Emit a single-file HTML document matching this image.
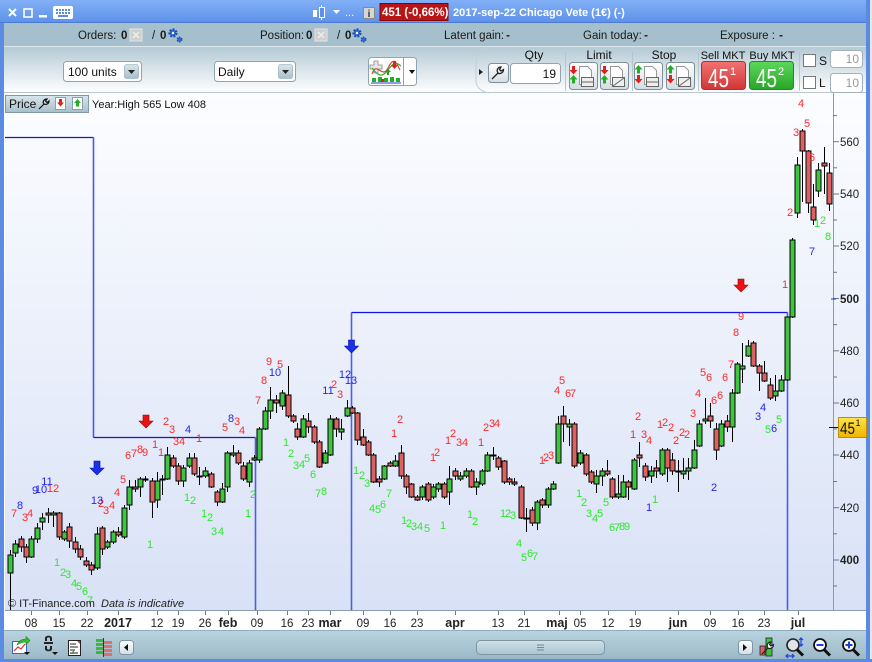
<!DOCTYPE html>
<html><head><meta charset="utf-8">
<style>
*{margin:0;padding:0}
html,body{width:872px;height:662px;overflow:hidden;background:#fff}
svg{display:block}
</style></head><body>
<svg width="872" height="662" viewBox="0 0 872 662" xmlns="http://www.w3.org/2000/svg" font-family="'Liberation Sans', Arial, sans-serif">
<defs>
<linearGradient id="gTitle" x1="0" y1="0" x2="0" y2="1"><stop offset="0" stop-color="#82b0f7"/><stop offset="1" stop-color="#5d91e9"/></linearGradient>
<linearGradient id="gTool" x1="0" y1="0" x2="0" y2="1"><stop offset="0" stop-color="#b4cad5"/><stop offset="1" stop-color="#ffffff"/></linearGradient>
<linearGradient id="gChart" x1="0" y1="0" x2="0" y2="1"><stop offset="0" stop-color="#fcfdff"/><stop offset="1" stop-color="#d8e1f6"/></linearGradient>
<linearGradient id="gBot" x1="0" y1="0" x2="0" y2="1"><stop offset="0" stop-color="#bad3df"/><stop offset="1" stop-color="#9cb9c8"/></linearGradient>
<linearGradient id="gBtn" x1="0" y1="0" x2="0" y2="1"><stop offset="0" stop-color="#d8e6ec"/><stop offset="1" stop-color="#a6bfcb"/></linearGradient>
<linearGradient id="gW" x1="0" y1="0" x2="0" y2="1"><stop offset="0" stop-color="#ffffff"/><stop offset="1" stop-color="#d3dde4"/></linearGradient>
<linearGradient id="gRed" x1="0" y1="0" x2="0" y2="1"><stop offset="0" stop-color="#f27272"/><stop offset="1" stop-color="#d23636"/></linearGradient>
<linearGradient id="gGreen" x1="0" y1="0" x2="0" y2="1"><stop offset="0" stop-color="#5cd85c"/><stop offset="1" stop-color="#28a628"/></linearGradient>
<linearGradient id="gYel" x1="0" y1="0" x2="0" y2="1"><stop offset="0" stop-color="#ffe44a"/><stop offset="1" stop-color="#f0b400"/></linearGradient>
<linearGradient id="gThumb" x1="0" y1="0" x2="0" y2="1"><stop offset="0" stop-color="#cfe2ea"/><stop offset="1" stop-color="#a8c3d0"/></linearGradient>
</defs>

<!-- frame -->
<rect x="0" y="0" width="872" height="662" fill="#ffffff"/>
<rect x="0" y="0" width="872" height="23" fill="url(#gTitle)"/>
<line x1="0" y1="22.5" x2="872" y2="22.5" stroke="#4a7bd4"/>
<rect x="4" y="23" width="862" height="23" fill="#a5bfcc"/>
<line x1="4" y1="46.5" x2="866" y2="46.5" stroke="#dce7ed"/>
<rect x="4" y="47" width="862" height="46" fill="url(#gTool)"/>
<line x1="4" y1="92.5" x2="866" y2="92.5" stroke="#b9c5cd"/>

<!-- chart bg -->
<rect x="5" y="93" width="861" height="518" fill="url(#gChart)"/>
<rect x="5" y="611" width="861" height="19" fill="#ffffff"/>
<rect x="4" y="630" width="862" height="29" fill="url(#gBot)"/>
<line x1="4" y1="630.5" x2="866" y2="630.5" stroke="#8fb0c2"/>

<rect x="0" y="23" width="4" height="639" fill="#5b8be3"/>
<rect x="866" y="0" width="4" height="662" fill="#5a8ae3"/>
<rect x="870" y="0" width="2" height="662" fill="#e2e8ee"/>
<rect x="0" y="659" width="872" height="3" fill="#5a8ae3"/>

<!-- title bar -->
<path d="M9 9L16 16M16 9L9 16" stroke="#fff" stroke-width="2"/>
<rect x="24" y="9" width="8" height="8" fill="none" stroke="#fff" stroke-width="1.6"/>
<rect x="39" y="15" width="8" height="2.5" fill="#fff"/>
<rect x="53" y="6" width="20" height="13" rx="2" fill="#fff"/>
<g fill="#5b8be3"><rect x="56" y="9" width="2" height="2"/><rect x="59" y="9" width="2" height="2"/><rect x="62" y="9" width="2" height="2"/><rect x="65" y="9" width="2" height="2"/><rect x="68" y="9" width="2" height="2"/><rect x="56" y="12" width="2" height="2"/><rect x="59" y="12" width="2" height="2"/><rect x="62" y="12" width="2" height="2"/><rect x="65" y="12" width="2" height="2"/><rect x="68" y="12" width="2" height="2"/><rect x="58" y="15" width="10" height="2"/></g>
<rect x="313" y="10" width="4" height="7" fill="#fff"/>
<line x1="321.5" y1="5" x2="321.5" y2="20" stroke="#fff"/>
<rect x="319.5" y="7.5" width="5" height="10" fill="#5d91e9" stroke="#fff"/>
<path d="M333 10h7l-3.5 4z" fill="#fff"/>
<text x="345" y="16" fill="#fff" font-size="11">...</text>
<rect x="363.5" y="7.5" width="11" height="11" fill="#d6d6d6" stroke="#8a8a8a"/>
<text x="369" y="17" fill="#333" font-size="10" font-weight="bold" text-anchor="middle">i</text>
<rect x="380" y="3.5" width="68" height="17" fill="#b81616" stroke="#8a0000"/>
<text x="382" y="16" fill="#fff" font-size="11.5" font-weight="bold">451 (-0,66%)</text>
<text x="453" y="16" fill="#fff" font-size="11" font-weight="bold">2017-sep-22 Chicago Vete (1€) (-)</text>

<!-- row 2 -->
<g font-size="11.5" fill="#1a1a1a">
<text x="78" y="39">Orders:</text>
<text x="121" y="39" font-weight="bold">0</text>
<text x="152" y="39">/</text>
<text x="160" y="39" font-weight="bold">0</text>
<text x="260" y="39">Position:</text>
<text x="306" y="39" font-weight="bold">0</text>
<text x="337" y="39">/</text>
<text x="345" y="39" font-weight="bold">0</text>
<text x="444" y="39">Latent gain:</text><text x="510" y="39" font-weight="bold" text-anchor="end">-</text>
<text x="583" y="39">Gain today:</text><text x="648" y="39" font-weight="bold" text-anchor="end">-</text>
<text x="720" y="39">Exposure :</text><text x="783" y="39" font-weight="bold" text-anchor="end">-</text>
</g>
<rect x="130" y="29" width="12" height="12" fill="#cfcfcf" stroke="#e6e6e6"/>
<path d="M133 32l6 6M139 32l-6 6" stroke="#eee" stroke-width="1.5"/>
<rect x="315" y="29" width="12" height="12" fill="#cfcfcf" stroke="#e6e6e6"/>
<path d="M318 32l6 6M324 32l-6 6" stroke="#eee" stroke-width="1.5"/>
<g fill="#2d6bd3" stroke="#1b4ea8">
<circle cx="173" cy="33" r="3.5" stroke-width="2.2" stroke-dasharray="1.8 1.4"/>
<circle cx="179.5" cy="39.5" r="2.2" stroke-width="1.6" stroke-dasharray="1.3 1.1"/>
<circle cx="357" cy="33" r="3.5" stroke-width="2.2" stroke-dasharray="1.8 1.4"/>
<circle cx="363.5" cy="39.5" r="2.2" stroke-width="1.6" stroke-dasharray="1.3 1.1"/>
</g>
<circle cx="173" cy="33" r="1.2" fill="#fff"/><circle cx="357" cy="33" r="1.2" fill="#fff"/>

<!-- row 3 -->
<rect x="63.5" y="61.5" width="78" height="20" rx="3" fill="#fff" stroke="#8fa4ae"/>
<text x="68" y="76" font-size="12" fill="#111">100 units</text>
<rect x="124.5" y="64.5" width="14" height="14" rx="2" fill="url(#gBtn)" stroke="#8ba3ae" stroke-width="0.6"/>
<path d="M128 70h7l-3.5 4z" fill="#222"/>
<rect x="214.5" y="61.5" width="81" height="20" rx="3" fill="#fff" stroke="#8fa4ae"/>
<text x="218" y="76" font-size="12" fill="#111">Daily</text>
<rect x="278.5" y="64.5" width="14" height="14" rx="2" fill="url(#gBtn)" stroke="#8ba3ae" stroke-width="0.6"/>
<path d="M282 70h7l-3.5 4z" fill="#222"/>

<rect x="368.5" y="57.5" width="48" height="28" rx="3" fill="#fff" stroke="#8fa4ae"/>
<line x1="403.5" y1="58" x2="403.5" y2="85" stroke="#8fa4ae"/>
<path d="M409 70h6l-3 4z" fill="#111"/>
<path d="M374 61h4v4h4v4h-4v4h-4v-4h-4v-4h4z" fill="#e8e8e8" stroke="#888" stroke-width="0.8"/>
<path d="M372 74c5-14 10 6 16-6s8-6 12 2" fill="none" stroke="#e04040" stroke-width="1.2"/>
<path d="M372 68c6 8 10 10 16 2s8-8 13-4" fill="none" stroke="#30b030" stroke-width="1.2"/>
<path d="M385 72l3-3 3 3h-2v3h-2v-3z" fill="#20a020"/>
<path d="M393 61h3v4h2l-3.5 4-3.5-4h2z" fill="#e02020"/>
<g fill="#20b020"><rect x="372" y="78" width="4" height="4"/><rect x="378" y="77" width="4" height="5"/><rect x="384" y="78" width="4" height="4"/><rect x="390" y="77" width="4" height="5"/><rect x="396" y="78" width="4" height="4"/></g>
<rect x="381" y="79" width="3" height="3" fill="#e02020"/>
<line x1="371" y1="83" x2="401" y2="83" stroke="#2040d0"/>

<!-- right order panel -->
<path d="M489 48C479 50 476 56 476 62V80C476 87 480 91 489 93" fill="none" stroke="#c2ced4"/>
<path d="M479 69l4 3-4 3z" fill="#222"/>
<rect x="488.5" y="63.5" width="20" height="19" rx="3" fill="url(#gW)" stroke="#7d909a"/>
<path d="M492 79l6-6M498 73c-2-3 0-6 3-6l-1.5 2.5 1.5 1.5 2.5-1.5c0 3-3 5-6 3.5" fill="none" stroke="#222" stroke-width="1.3"/>
<text x="534" y="59" font-size="12" fill="#111" text-anchor="middle">Qty</text>
<rect x="510.5" y="63.5" width="50" height="20" rx="3" fill="#fff" stroke="#8fa4ae"/>
<text x="556" y="78" font-size="12" fill="#111" text-anchor="end">19</text>
<g stroke="#b7c5cd"><line x1="565.5" y1="52" x2="565.5" y2="91"/><line x1="632.5" y1="52" x2="632.5" y2="91"/><line x1="698.5" y1="52" x2="698.5" y2="91"/><line x1="799.5" y1="52" x2="799.5" y2="91"/></g>
<text x="599" y="59" font-size="12" fill="#111" text-anchor="middle">Limit</text>
<text x="664" y="59" font-size="12" fill="#111" text-anchor="middle">Stop</text>
<text x="723" y="59" font-size="11" fill="#111" text-anchor="middle">Sell MKT</text>
<text x="772" y="59" font-size="11" fill="#111" text-anchor="middle">Buy MKT</text>

<g>
<rect x="569.5" y="62.5" width="28" height="27" rx="3" fill="url(#gW)" stroke="#7d909a"/>
<path d="M579.5 66.5h8l4 4v14h-12z" fill="#fff" stroke="#999"/>
<path d="M572 66h3v4h2.5l-4 4.5-4-4.5h2.5z" fill="#e21e1e"/>
<path d="M573.5 75l4 4.5h-2.5v4h-3v-4h-2.5z" fill="#22b022"/>
<rect x="581.5" y="77.5" width="12" height="9" fill="#eee" stroke="#666"/><line x1="581.5" y1="82" x2="593.5" y2="82" stroke="#666"/>
</g>
<g transform="translate(31,0)">
<rect x="569.5" y="62.5" width="28" height="27" rx="3" fill="url(#gW)" stroke="#7d909a"/>
<path d="M579.5 66.5h8l4 4v14h-12z" fill="#fff" stroke="#999"/>
<path d="M572 66h3v4h2.5l-4 4.5-4-4.5h2.5z" fill="#e21e1e"/>
<path d="M573.5 75l4 4.5h-2.5v4h-3v-4h-2.5z" fill="#22b022"/>
<rect x="581.5" y="77.5" width="12" height="9" fill="#eee" stroke="#666"/><line x1="582" y1="86" x2="593" y2="78" stroke="#666"/>
</g>
<g transform="translate(65,0)">
<rect x="569.5" y="62.5" width="28" height="27" rx="3" fill="url(#gW)" stroke="#7d909a"/>
<path d="M579.5 66.5h8l4 4v14h-12z" fill="#fff" stroke="#999"/>
<path d="M573.5 65l4 4.5h-2.5v4h-3v-4h-2.5z" fill="#22b022"/>
<path d="M572 75h3v4h2.5l-4 4.5-4-4.5h2.5z" fill="#e21e1e"/>
<rect x="581.5" y="77.5" width="12" height="9" fill="#eee" stroke="#666"/><line x1="581.5" y1="82" x2="593.5" y2="82" stroke="#666"/>
</g>
<g transform="translate(97,0)">
<rect x="569.5" y="62.5" width="28" height="27" rx="3" fill="url(#gW)" stroke="#7d909a"/>
<path d="M579.5 66.5h8l4 4v14h-12z" fill="#fff" stroke="#999"/>
<path d="M573.5 65l4 4.5h-2.5v4h-3v-4h-2.5z" fill="#22b022"/>
<path d="M572 75h3v4h2.5l-4 4.5-4-4.5h2.5z" fill="#e21e1e"/>
<rect x="581.5" y="77.5" width="12" height="9" fill="#eee" stroke="#666"/><line x1="582" y1="86" x2="593" y2="78" stroke="#666"/>
</g>

<rect x="701.5" y="61.5" width="44" height="28" rx="3" fill="url(#gRed)" stroke="#b03030"/>
<text x="708" y="87" font-size="26" fill="#fff" textLength="21" lengthAdjust="spacingAndGlyphs">45</text>
<text x="730" y="75" font-size="11" fill="#fff">1</text>
<rect x="749.5" y="61.5" width="44" height="28" rx="3" fill="url(#gGreen)" stroke="#208a20"/>
<text x="756" y="87" font-size="26" fill="#fff" textLength="21" lengthAdjust="spacingAndGlyphs">45</text>
<text x="778" y="75" font-size="11" fill="#fff">2</text>

<rect x="803.5" y="54.5" width="12" height="12" fill="#fff" stroke="#777"/>
<text x="819" y="65" font-size="12" fill="#111">S</text>
<rect x="803.5" y="76.5" width="12" height="12" fill="#fff" stroke="#777"/>
<text x="819" y="87" font-size="12" fill="#111">L</text>
<rect x="830.5" y="50.5" width="32" height="17" rx="3" fill="#fff" stroke="#a2b2ba"/>
<text x="859" y="63" font-size="12" fill="#9a9a9a" text-anchor="end">10</text>
<rect x="830.5" y="73.5" width="32" height="19" rx="3" fill="#fff" stroke="#a2b2ba"/>
<text x="859" y="87" font-size="12" fill="#9a9a9a" text-anchor="end">10</text>

<!-- Price header -->
<rect x="5.5" y="95.5" width="83" height="17" fill="url(#gBtn)" stroke="#7f9aa6"/>
<text x="9" y="108" font-size="12" fill="#111">Price</text>
<path d="M39 109l5-5M44 104c-2-2 0-5 3-5l-1.5 2 1.5 1.5 2-1.5c0 3-3 4-5 3" fill="none" stroke="#111" stroke-width="1.2"/>
<rect x="55.5" y="97.5" width="10" height="12" fill="#fff" stroke="#8aa0aa"/>
<path d="M59 99h3v3.5h2l-3.5 4-3.5-4h2z" fill="#e21e1e"/>
<rect x="72.5" y="97.5" width="10" height="12" fill="#fff" stroke="#8aa0aa"/>
<path d="M77.5 99l3.5 4h-2v3.5h-3v-3.5h-2z" fill="#22b022"/>
<text x="92" y="108" font-size="11" fill="#111">Year:High 565 Low 408</text>

<!-- axes frame -->
<line x1="833.5" y1="93" x2="833.5" y2="611" stroke="#8a9cab"/>
<line x1="5" y1="610.5" x2="866" y2="610.5" stroke="#8a9cab"/>

<!-- price axis -->
<g stroke="#6a7a88">
<line x1="833" y1="115.6" x2="837" y2="115.6"/><line x1="833" y1="141.7" x2="839" y2="141.7"/><line x1="833" y1="167.8" x2="837" y2="167.8"/><line x1="833" y1="194" x2="839" y2="194"/><line x1="833" y1="220" x2="837" y2="220"/><line x1="833" y1="246" x2="839" y2="246"/><line x1="833" y1="272.3" x2="837" y2="272.3"/><line x1="833" y1="298.5" x2="839" y2="298.5"/><line x1="833" y1="324.6" x2="837" y2="324.6"/><line x1="833" y1="350.8" x2="839" y2="350.8"/><line x1="833" y1="377" x2="837" y2="377"/><line x1="833" y1="403" x2="839" y2="403"/><line x1="833" y1="429" x2="837" y2="429"/><line x1="833" y1="455" x2="839" y2="455"/><line x1="833" y1="481.5" x2="837" y2="481.5"/><line x1="833" y1="507.7" x2="839" y2="507.7"/><line x1="833" y1="533.8" x2="837" y2="533.8"/><line x1="833" y1="560" x2="839" y2="560"/><line x1="833" y1="586" x2="837" y2="586"/>
</g>
<g font-size="11.5" fill="#222">
<text x="840" y="146">560</text>
<text x="840" y="198">540</text>
<text x="840" y="250">520</text>
<text x="840" y="303" font-weight="bold">500</text>
<text x="840" y="355">480</text>
<text x="840" y="407">460</text>
<text x="840" y="459">440</text>
<text x="840" y="512">420</text>
<text x="840" y="564" font-weight="bold">400</text>
</g>
<line x1="831" y1="299" x2="836" y2="299" stroke="#2030e0"/>

<!-- date axis -->
<g stroke="#6a7a88">
<line x1="31.5" y1="611" x2="31.5" y2="615"/><line x1="59.5" y1="611" x2="59.5" y2="615"/><line x1="87.5" y1="611" x2="87.5" y2="615"/><line x1="118.5" y1="611" x2="118.5" y2="615"/><line x1="157.5" y1="611" x2="157.5" y2="615"/><line x1="178.5" y1="611" x2="178.5" y2="615"/><line x1="205.5" y1="611" x2="205.5" y2="615"/><line x1="228.5" y1="611" x2="228.5" y2="615"/><line x1="257.5" y1="611" x2="257.5" y2="615"/><line x1="287.5" y1="611" x2="287.5" y2="615"/><line x1="308.5" y1="611" x2="308.5" y2="615"/><line x1="330.5" y1="611" x2="330.5" y2="615"/><line x1="363.5" y1="611" x2="363.5" y2="615"/><line x1="390.5" y1="611" x2="390.5" y2="615"/><line x1="417.5" y1="611" x2="417.5" y2="615"/><line x1="455.5" y1="611" x2="455.5" y2="615"/><line x1="498.5" y1="611" x2="498.5" y2="615"/><line x1="524.5" y1="611" x2="524.5" y2="615"/><line x1="559.5" y1="611" x2="559.5" y2="615"/><line x1="580.5" y1="611" x2="580.5" y2="615"/><line x1="608.5" y1="611" x2="608.5" y2="615"/><line x1="635.5" y1="611" x2="635.5" y2="615"/><line x1="678.5" y1="611" x2="678.5" y2="615"/><line x1="710.5" y1="611" x2="710.5" y2="615"/><line x1="738.5" y1="611" x2="738.5" y2="615"/><line x1="764.5" y1="611" x2="764.5" y2="615"/><line x1="798.5" y1="611" x2="798.5" y2="615"/>
</g>
<g font-size="11.5" fill="#222" text-anchor="middle">
<text x="31" y="627">08</text><text x="59" y="627">15</text><text x="87" y="627">22</text>
<text x="118" y="627" font-weight="bold" font-size="12.5">2017</text>
<text x="157" y="627">12</text><text x="178" y="627">19</text><text x="205" y="627">26</text>
<text x="228" y="627" font-weight="bold" font-size="12.5">feb</text>
<text x="257" y="627">09</text><text x="287" y="627">16</text><text x="308" y="627">23</text>
<text x="330" y="627" font-weight="bold" font-size="12.5">mar</text>
<text x="363" y="627">09</text><text x="390" y="627">16</text><text x="417" y="627">23</text>
<text x="455" y="627" font-weight="bold" font-size="12.5">apr</text>
<text x="498" y="627">13</text><text x="524" y="627">21</text>
<text x="557" y="627" font-weight="bold" font-size="12.5">maj</text>
<text x="580" y="627">05</text><text x="608" y="627">12</text><text x="635" y="627">19</text>
<text x="678" y="627" font-weight="bold" font-size="12.5">jun</text>
<text x="710" y="627">09</text><text x="738" y="627">16</text><text x="764" y="627">23</text>
<text x="798" y="627" font-weight="bold" font-size="12.5">jul</text>
</g>

<!-- blue step lines -->
<g fill="none">
<path d="M5 137.5H93.5" stroke="#1212e6" stroke-width="1.3"/>
<line x1="93.5" y1="137.5" x2="93.5" y2="437.5" stroke="#4858f2" stroke-width="1.6"/>
<path d="M93.5 437.5H255.5" stroke="#1212e6" stroke-width="1.3"/>
<line x1="255.5" y1="437.5" x2="255.5" y2="610" stroke="#4c5cf2" stroke-width="1.6"/>
<line x1="351.5" y1="312.5" x2="351.5" y2="610" stroke="#4c5cf2" stroke-width="1.6"/>
<path d="M351.5 312.5H787.5" stroke="#1212e6" stroke-width="1.3"/>
<line x1="787.5" y1="312.5" x2="787.5" y2="610" stroke="#4c5cf2" stroke-width="1.6"/>
</g>

<!-- candles -->
<path shape-rendering="crispEdges" stroke="#000" stroke-width="1" fill="none" d="M10.5 550V610M15.5 540V557M21.5 536V552M26.5 544V563M31.5 536V558M37.5 523V543M42.5 513V530M48.5 508V523M53.5 511V527M59.5 512V540M64.5 530V541M69.5 523V548M75.5 537V553M80.5 545V560M86.5 557V567M91.5 562V575M97.5 527V570M102.5 526V555M107.5 540V549M113.5 530V544M118.5 527V537M124.5 505V539M129.5 480V510M135.5 480V492M140.5 477V497M145.5 476V482M152.5 478V518M157.5 472V508M162.5 475V495M167.5 447V480M173.5 455V468M178.5 463V485M183.5 465V487M189.5 453V468M194.5 453V476M199.5 467V485M205.5 467V478M211.5 472V488M217.5 490V506M222.5 483V503M227.5 451V492M233.5 445V457M238.5 450V465M243.5 462V481M249.5 460V487M254.5 455V461M259.5 427V463M265.5 407V430M270.5 387V419M276.5 395V413M282.5 390V410M288.5 366V418M293.5 414V423M297.5 423V440M303.5 415V438M308.5 413V433M314.5 425V444M319.5 440V468M325.5 450V464M330.5 415V456M336.5 417V437M341.5 419V440M347.5 400V417M352.5 406V414M357.5 412V445M363.5 429V446M368.5 440V456M373.5 453V483M379.5 476V487M384.5 465V480M390.5 461V467M395.5 455V467M401.5 445V479M406.5 474V494M411.5 483V498M417.5 495V501M422.5 485V500M428.5 482V502M433.5 484V499M438.5 482V492M444.5 482V499M449.5 466V505M455.5 468V480M460.5 472V481M466.5 468V478M471.5 469V488M476.5 478V495M482.5 469V486M487.5 452V472M493.5 447V460M498.5 456V470M504.5 460V484M509.5 477V485M514.5 478V486M521.5 485V519M526.5 508V532M532.5 507V526M537.5 500V530M542.5 498V508M548.5 487V508M553.5 481V490M558.5 416V464M563.5 406V442M569.5 419V446M574.5 422V468M580.5 450V465M586.5 453V476M591.5 470V484M596.5 470V493M602.5 468V486M607.5 460V476M612.5 477V499M618.5 475V499M623.5 475V498M628.5 480V500M634.5 458V490M639.5 442V467M645.5 463V481M651.5 466V483M656.5 460V478M662.5 448V476M667.5 448V482M672.5 453V475M678.5 460V492M683.5 458V479M688.5 458V480M694.5 440V469M699.5 420V447M705.5 398V424M710.5 403V428M716.5 423V460M721.5 420V447M727.5 415V432M732.5 389V442M737.5 362V394M742.5 343V383M748.5 340V357M753.5 341V367M759.5 364V391M764.5 361V382M770.5 378V400M775.5 375V401M781.5 375V392M787.5 317V381M792.5 238V318M797.5 157V218M802.5 129V202M808.5 150V213M813.5 184V225M818.5 163V197M824.5 147V194M829.5 163V211"/>
<path shape-rendering="crispEdges" stroke="#000" stroke-width="1" fill="#3ec43e" d="M8 555h5v18h-5zM13 544h5v9h-5zM29 539h5v18h-5zM35 528h5v11h-5zM40 518h5v4h-5zM51 513h5v2h-5zM62 532h5v7h-5zM95 534h5v34h-5zM105 542h5v5h-5zM111 532h5v10h-5zM122 508h5v29h-5zM127 487h5v18h-5zM138 479h5v8h-5zM143 479h5v1h-5zM155 481h5v19h-5zM160 479h5v1h-5zM165 455h5v24h-5zM181 468h5v13h-5zM187 458h5v8h-5zM197 476h5v1h-5zM203 471h5v5h-5zM220 489h5v13h-5zM225 453h5v34h-5zM231 453h5v2h-5zM247 463h5v19h-5zM252 458h5v2h-5zM257 429h5v31h-5zM263 411h5v18h-5zM268 400h5v11h-5zM280 393h5v13h-5zM301 419h5v18h-5zM323 453h5v10h-5zM328 419h5v36h-5zM339 429h5v3h-5zM345 408h5v8h-5zM382 466h5v13h-5zM393 461h5v5h-5zM420 487h5v10h-5zM431 487h5v10h-5zM436 484h5v5h-5zM447 479h5v13h-5zM458 476h5v3h-5zM464 471h5v5h-5zM474 482h5v5h-5zM480 471h5v13h-5zM485 455h5v16h-5zM491 455h5v1h-5zM524 518h5v1h-5zM535 502h5v21h-5zM546 489h5v16h-5zM551 484h5v5h-5zM556 424h5v39h-5zM567 424h5v3h-5zM578 453h5v10h-5zM594 476h5v8h-5zM600 471h5v5h-5zM616 494h5v3h-5zM621 482h5v15h-5zM632 460h5v29h-5zM649 471h5v5h-5zM660 450h5v24h-5zM676 471h5v1h-5zM681 471h5v3h-5zM686 468h5v3h-5zM692 450h5v18h-5zM697 424h5v22h-5zM703 419h5v2h-5zM719 424h5v22h-5zM730 393h5v34h-5zM735 364h5v29h-5zM740 366h5v3h-5zM746 346h5v10h-5zM773 391h5v5h-5zM779 380h5v11h-5zM785 317h5v63h-5zM790 240h5v77h-5zM795 165h5v48h-5zM816 170h5v21h-5z"/>
<path shape-rendering="crispEdges" stroke="#000" stroke-width="1" fill="#dc6262" d="M19 539h5v8h-5zM24 547h5v10h-5zM46 513h5v2h-5zM57 513h5v24h-5zM67 527h5v14h-5zM73 542h5v7h-5zM78 549h5v8h-5zM84 561h5v4h-5zM89 565h5v5h-5zM100 528h5v21h-5zM116 532h5v3h-5zM133 487h5v2h-5zM150 481h5v21h-5zM171 458h5v8h-5zM176 466h5v15h-5zM192 458h5v16h-5zM209 474h5v13h-5zM215 492h5v10h-5zM236 453h5v10h-5zM241 466h5v13h-5zM274 400h5v3h-5zM286 395h5v21h-5zM291 416h5v5h-5zM295 429h5v8h-5zM306 421h5v6h-5zM312 427h5v15h-5zM317 442h5v25h-5zM334 419h5v10h-5zM350 408h5v5h-5zM355 413h5v27h-5zM361 437h5v8h-5zM366 442h5v13h-5zM371 455h5v27h-5zM377 479h5v3h-5zM388 463h5v3h-5zM399 453h5v23h-5zM404 476h5v11h-5zM409 484h5v13h-5zM415 497h5v3h-5zM426 484h5v16h-5zM442 484h5v13h-5zM453 471h5v5h-5zM469 471h5v16h-5zM496 458h5v9h-5zM502 461h5v21h-5zM507 479h5v3h-5zM512 482h5v2h-5zM519 487h5v31h-5zM530 510h5v13h-5zM540 500h5v5h-5zM561 416h5v8h-5zM572 424h5v42h-5zM584 455h5v19h-5zM589 472h5v10h-5zM605 471h5v3h-5zM610 479h5v18h-5zM626 482h5v5h-5zM637 455h5v3h-5zM643 466h5v11h-5zM654 468h5v3h-5zM665 450h5v18h-5zM670 460h5v11h-5zM708 416h5v5h-5zM714 429h5v21h-5zM725 421h5v6h-5zM751 343h5v23h-5zM757 366h5v7h-5zM762 373h5v8h-5zM768 385h5v13h-5zM800 131h5v20h-5zM806 151h5v52h-5zM811 207h5v13h-5zM822 163h5v3h-5zM827 173h5v31h-5z"/>

<!-- arrows -->
<path d="M143 415h6v6h4l-7 7-7-7h4z" fill="#ea1212" stroke="#a00000" stroke-width="0.6"/>
<path d="M738 279h6v6h4l-7 7-7-7h4z" fill="#ea1212" stroke="#a00000" stroke-width="0.6"/>
<path d="M94 461h6v7h4l-7 7-7-7h4z" fill="#1a30ea" stroke="#0010a0" stroke-width="0.6"/>
<path d="M348.5 340h6v6h4l-7 7-7-7h4z" fill="#1a30ea" stroke="#0010a0" stroke-width="0.6"/>

<!-- count labels -->
<g font-size="11" text-anchor="middle" fill="#ff2a2a">
<text x="14" y="517">7</text><text x="25" y="521">3</text><text x="30" y="517">4</text><text x="53" y="492">12</text>
<text x="101" y="507">2</text><text x="106" y="514">3</text><text x="112" y="509">4</text><text x="117" y="496">4</text><text x="123" y="483">5</text>
<text x="128" y="459">6</text><text x="134" y="457">7</text><text x="140" y="453">8</text><text x="145" y="456">9</text>
<text x="155" y="448">1</text><text x="161" y="456">1</text><text x="166" y="425">2</text><text x="172" y="433">3</text>
<text x="176" y="445">3</text><text x="182" y="445">4</text><text x="199" y="442">1</text>
<text x="225" y="431">5</text><text x="237" y="425">3</text><text x="242" y="434">4</text>
<text x="258" y="404">7</text><text x="264" y="384">8</text><text x="269" y="365">9</text><text x="280" y="368">5</text>
<text x="334" y="388">2</text><text x="340" y="398">3</text>
<text x="394" y="437">1</text><text x="400" y="423">2</text>
<text x="433" y="461">1</text><text x="437" y="456">2</text>
<text x="448" y="444">1</text><text x="453" y="437">2</text><text x="459" y="446">3</text><text x="465" y="446">4</text>
<text x="481" y="446">1</text><text x="486" y="431">2</text><text x="492" y="427">3</text><text x="497" y="427">4</text>
<text x="542" y="464">1</text><text x="546" y="461">2</text><text x="551" y="459">3</text>
<text x="557" y="394">4</text><text x="562" y="384">5</text><text x="568" y="397">6</text><text x="573" y="397">7</text>
<text x="638" y="420">2</text><text x="633" y="438">1</text><text x="644" y="438">3</text><text x="649" y="444">4</text>
<text x="660" y="428">1</text><text x="665" y="426">2</text><text x="671" y="431">2</text><text x="676" y="444">2</text><text x="682" y="436">2</text><text x="687" y="438">2</text>
<text x="693" y="417">3</text><text x="698" y="397">4</text><text x="703" y="376">5</text><text x="709" y="381">6</text>
<text x="714" y="404">6</text><text x="720" y="399">6</text><text x="725" y="381">6</text><text x="731" y="368">7</text>
<text x="736" y="336">8</text><text x="741" y="320">9</text>
<text x="801" y="107">4</text><text x="796" y="136">3</text><text x="807" y="127">5</text><text x="812" y="161">6</text>
<text x="790" y="216">2</text><text x="785" y="288">1</text>
</g>
<g font-size="11" text-anchor="middle" fill="#2424ee">
<text x="20" y="509">8</text><text x="35" y="494">9</text><text x="41" y="493">10</text><text x="47" y="485">11</text>
<text x="97" y="504">13</text><text x="188" y="433">4</text><text x="231" y="422">8</text><text x="275" y="376">10</text>
<text x="328" y="394">11</text><text x="345" y="378">12</text><text x="351" y="384">13</text>
<text x="649" y="511">1</text><text x="714" y="491">2</text><text x="758" y="420">3</text><text x="763" y="411">4</text><text x="774" y="432">6</text><text x="812" y="255">7</text>
</g>
<g font-size="11" text-anchor="middle" fill="#2ee82e">
<text x="57" y="566">1</text><text x="63" y="576">2</text><text x="68" y="578">3</text><text x="74" y="587">4</text><text x="79" y="590">5</text><text x="85" y="595">6</text><text x="90" y="604">7</text>
<text x="150" y="548">1</text><text x="187" y="501">1</text><text x="193" y="504">2</text>
<text x="204" y="517">1</text><text x="210" y="521">2</text><text x="214" y="535">3</text><text x="221" y="535">4</text>
<text x="248" y="517">1</text><text x="253" y="498">2</text>
<text x="286" y="446">1</text><text x="291" y="457">2</text><text x="296" y="469">3</text><text x="302" y="468">4</text><text x="307" y="462">5</text><text x="313" y="478">6</text><text x="318" y="497">7</text><text x="324" y="495">8</text>
<text x="356" y="474">1</text><text x="362" y="479">2</text><text x="367" y="487">3</text><text x="372" y="512">4</text><text x="378" y="513">5</text><text x="383" y="508">6</text><text x="389" y="497">7</text>
<text x="404" y="524">1</text><text x="409" y="527">2</text><text x="414" y="530">3</text><text x="420" y="530">4</text><text x="427" y="532">5</text>
<text x="443" y="529">1</text><text x="470" y="518">1</text><text x="475" y="525">2</text>
<text x="503" y="517">1</text><text x="508" y="517">2</text><text x="513" y="519">3</text>
<text x="519" y="547">4</text><text x="524" y="561">5</text><text x="530" y="557">6</text><text x="535" y="560">7</text>
<text x="579" y="497">1</text><text x="584" y="506">2</text><text x="589" y="517">3</text><text x="595" y="522">4</text><text x="600" y="517">5</text><text x="606" y="506">5</text>
<text x="612" y="531">6</text><text x="617" y="531">7</text><text x="622" y="530">8</text><text x="627" y="530">9</text>
<text x="655" y="503">1</text><text x="779" y="423">5</text><text x="768" y="433">5</text>
<text x="817" y="227">1</text><text x="823" y="224">2</text><text x="828" y="240">8</text>
</g>

<!-- current price -->
<line x1="829" y1="427.5" x2="838" y2="427.5" stroke="#111"/>
<rect x="838.5" y="417.5" width="28" height="20" fill="url(#gYel)" stroke="#c08c00"/>
<text x="840" y="434" font-size="17" fill="#111" textLength="15" lengthAdjust="spacingAndGlyphs">45</text>
<text x="855.5" y="426" font-size="9" fill="#111">1</text>

<!-- copyright -->
<text x="8" y="607" font-size="11" fill="#222">© IT-Finance.com</text>
<text x="101" y="607" font-size="11" fill="#222" font-style="italic">Data is indicative</text>

<!-- bottom toolbar -->
<rect x="12.5" y="641.5" width="14" height="12" fill="#fff" stroke="#3366cc"/>
<path d="M14 651l4-4 3 2 4-5" fill="none" stroke="#e03030" stroke-width="1.2"/>
<path d="M17 645c2-5 6-6 9-6v-2.5l4 4-4 4v-2.5c-3 0-6 1-9 3z" fill="#30c030" stroke="#1a8a1a" stroke-width="0.6"/>
<path d="M24 652h6l-3 3z" fill="#111"/>
<path d="M45 638c0-3 7-3 7 0v3h-2v-2.5c0-1.5-3-1.5-3 0v2.5h-2zM45 649c0 3 7 3 7 0v-3h-2v2.5c0 1.5-3 1.5-3 0v-2.5h-2z" fill="#222"/>
<rect x="44" y="642" width="9" height="2" fill="#222"/>
<path d="M52 652h6l-3 3z" fill="#111"/>
<rect x="68.5" y="640.5" width="12" height="15" fill="#fff" stroke="#222"/>
<path d="M70 644h6M70 647h8M70 650h5M70 653h8" stroke="#222"/>
<path d="M77 641l3 3v-3z" fill="#e03030"/><path d="M70 654l4-4v4z" fill="#30b030"/>
<g fill="#3cb83c"><rect x="96" y="639" width="7" height="3"/><rect x="96" y="643" width="7" height="3"/><rect x="96" y="647" width="7" height="3"/><rect x="96" y="651" width="7" height="3"/></g>
<g fill="#e07070"><rect x="104" y="641" width="8" height="3"/><rect x="104" y="645" width="8" height="3"/><rect x="104" y="649" width="8" height="3"/><rect x="104" y="653" width="8" height="3"/></g>
<line x1="103.5" y1="638" x2="103.5" y2="657" stroke="#333"/>

<rect x="119.5" y="640.5" width="14" height="14" rx="3" fill="url(#gW)" stroke="#7e96a2"/>
<path d="M128 644l-4 3.5 4 3.5z" fill="#111"/>
<rect x="476.5" y="640.5" width="128" height="14" rx="4" fill="url(#gThumb)" stroke="#7e96a2"/>
<path d="M537 645h7M537 647.5h7M537 650h7" stroke="#6f8894"/>
<rect x="738.5" y="640.5" width="14" height="14" rx="3" fill="url(#gW)" stroke="#7e96a2"/>
<path d="M743 644l4 3.5-4 3.5z" fill="#111"/>

<rect x="766" y="638" width="6" height="18" fill="#3cc43c" stroke="#222" stroke-width="0.8"/>
<rect x="760" y="646" width="5" height="9" fill="#dc6262" stroke="#222" stroke-width="0.8"/>
<path d="M762 654l6-6M768 648c-2-3 0-6 3-6l-1.5 2.5 1.5 1.5 2.5-1.5c0 3-3 5-6 3.5" fill="#fff" stroke="#222" stroke-width="1.2"/>

<circle cx="793" cy="645" r="6" fill="#dfe4e8" stroke="#222" stroke-width="1.6"/>
<line x1="797" y1="649.5" x2="803" y2="655.5" stroke="#111" stroke-width="3"/>
<path d="M801 638v8M799 640l2-2 2 2M799 644l2 2 2-2M786 656h8M788 654l-2 2 2 2M792 654l2 2-2 2" fill="none" stroke="#1a40e0" stroke-width="1.2"/>
<circle cx="820" cy="645" r="6" fill="#fff" stroke="#111" stroke-width="1.8"/>
<line x1="824" y1="649.5" x2="830" y2="655.5" stroke="#111" stroke-width="3"/>
<line x1="816.5" y1="645" x2="823.5" y2="645" stroke="#1a40e0" stroke-width="2"/>
<circle cx="849" cy="645" r="6" fill="#fff" stroke="#111" stroke-width="1.8"/>
<line x1="853" y1="649.5" x2="859" y2="655.5" stroke="#111" stroke-width="3"/>
<path d="M845.5 645h7M849 641.5v7" stroke="#1a40e0" stroke-width="2"/>
</svg>
</body></html>
